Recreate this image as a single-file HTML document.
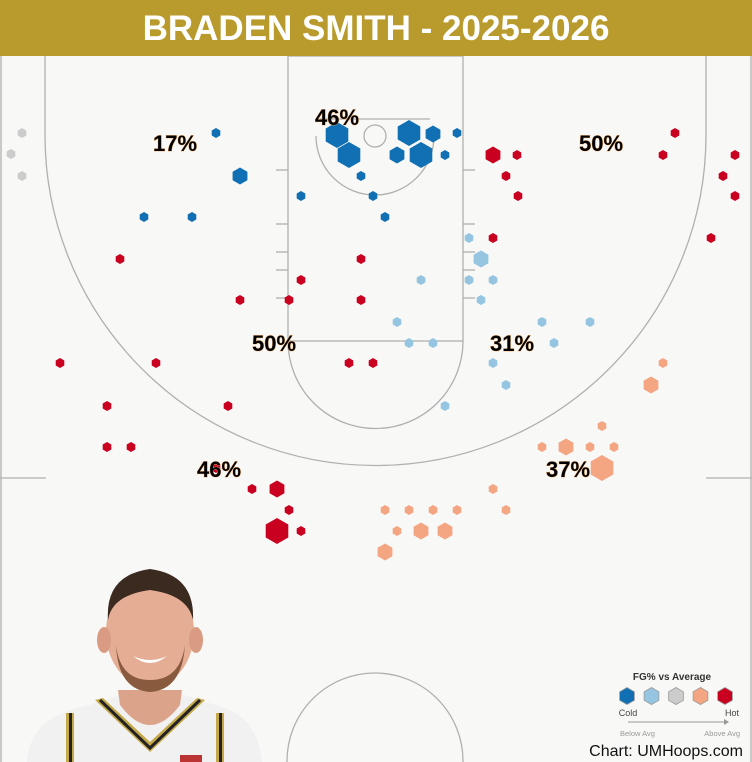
<!DOCTYPE html>
<html><head><meta charset="utf-8"><style>
html,body{margin:0;padding:0;background:#f8f8f6;width:752px;height:762px;overflow:hidden;}
body{position:relative;font-family:"Liberation Sans",sans-serif;}
#hdr{position:absolute;left:0;top:0;width:752px;height:56px;background:#b89b2c;color:#fff;font-weight:bold;font-size:35px;text-align:center;line-height:57px;}
svg{position:absolute;left:0;top:0;display:block;}
.lbl{font-weight:bold;font-size:22px;fill:#000;stroke:#f6b06a;stroke-width:0.8px;paint-order:stroke;}
</style></head><body>
<svg id="s" width="752" height="762" viewBox="0 0 752 762">
<rect x="0" y="56" width="752" height="706" fill="#f8f8f6"/>
<g fill="none" stroke="#b0b0b0" stroke-width="1.3">
<line x1="1" y1="56" x2="1" y2="762"/><line x1="751" y1="56" x2="751" y2="762"/>
<line x1="0" y1="478" x2="46" y2="478"/><line x1="706" y1="478" x2="752" y2="478"/>
<path d="M45,56 L45,135 A330.5,330.5 0 0 0 706,135 L706,56"/>
<rect x="288" y="56" width="175" height="285"/>
<path d="M288,341 A87.5,87.5 0 0 0 463,341"/>
<path d="M316,136 A59,59 0 0 0 434,136"/>
<circle cx="375" cy="136" r="11"/>
<line x1="320" y1="119" x2="430" y2="119"/>
<line x1="276" y1="170" x2="288" y2="170"/><line x1="276" y1="224" x2="288" y2="224"/><line x1="276" y1="252" x2="288" y2="252"/><line x1="276" y1="270" x2="288" y2="270"/><line x1="276" y1="298" x2="288" y2="298"/>
<line x1="463" y1="170" x2="475" y2="170"/><line x1="463" y1="224" x2="475" y2="224"/><line x1="463" y1="252" x2="475" y2="252"/><line x1="463" y1="270" x2="475" y2="270"/><line x1="463" y1="298" x2="475" y2="298"/>
<circle cx="375" cy="761" r="88"/>
</g>
<g id="hex"></g>
<g>
<text class="lbl" x="175" y="151" text-anchor="middle">17%</text>
<text class="lbl" x="337" y="125" text-anchor="middle">46%</text>
<text class="lbl" x="601" y="151" text-anchor="middle">50%</text>
<text class="lbl" x="274" y="351" text-anchor="middle">50%</text>
<text class="lbl" x="512" y="351" text-anchor="middle">31%</text>
<text class="lbl" x="219" y="477" text-anchor="middle">46%</text>
<text class="lbl" x="568" y="477" text-anchor="middle">37%</text>
</g>
<g>
<path d="M27,762 C30,725 55,712 90,705 L120,695 L185,695 L215,705 C245,712 258,730 262,762 Z" fill="#f1f1f1"/>
<path d="M95,700 L150,752 L205,700 L197,698 L150,742 L103,698 Z" fill="#c4a84a"/>
<path d="M100,700 L150,748 L200,700" fill="none" stroke="#222" stroke-width="3"/>
<rect x="66" y="713" width="8" height="49" fill="#c4a84a"/><rect x="69" y="713" width="3" height="49" fill="#222"/>
<rect x="216" y="713" width="8" height="49" fill="#c4a84a"/><rect x="219" y="713" width="3" height="49" fill="#222"/>
<path d="M118,690 L120,705 Q150,745 180,705 L182,690 Z" fill="#dba48a"/>
<ellipse cx="150" cy="632" rx="44" ry="55" fill="#e4ad94"/>
<ellipse cx="104" cy="640" rx="7" ry="13" fill="#d99c82"/><ellipse cx="196" cy="640" rx="7" ry="13" fill="#d99c82"/>
<path d="M108,620 Q105,575 150,569 Q195,575 193,620 Q188,595 150,590 Q112,595 108,620 Z" fill="#3b2a20"/>
<path d="M116,645 Q118,690 150,692 Q182,690 185,645 Q180,680 150,680 Q120,680 116,645 Z" fill="#8a5a3e"/>
<path d="M133,656 Q150,664 167,656 Q150,670 133,656 Z" fill="#fff"/>
<rect x="180" y="755" width="22" height="7" fill="#b33"/>
</g>
<text x="672" y="680" text-anchor="middle" font-size="10" font-weight="bold" fill="#333">FG% vs Average</text>
<g id="leg"></g>
<text x="628" y="716" text-anchor="middle" font-size="9" fill="#444">Cold</text>
<text x="732" y="716" text-anchor="middle" font-size="9" fill="#444">Hot</text>
<line x1="628" y1="722" x2="724" y2="722" stroke="#999" stroke-width="1"/>
<path d="M724,719 L729,722 L724,725 Z" fill="#999"/>
<text x="620" y="736" font-size="7.5" fill="#999">Below Avg</text>
<text x="740" y="736" text-anchor="end" font-size="7.5" fill="#999">Above Avg</text>
<text x="743" y="756" text-anchor="end" font-size="16" fill="#111">Chart: UMHoops.com</text>
</svg>
<div id="hdr">BRADEN SMITH - 2025-2026</div>
<script>
var C={b:"#1170b3",l:"#95c5e0",g:"#cccccc",o:"#f4a582",r:"#ca0020"};
var R={s:5,m:8.5,L:13};
function hex(x,y,r,c,st){var p=[];for(var i=0;i<6;i++){var a=Math.PI/3*i-Math.PI/2;p.push((x+r*Math.cos(a)).toFixed(1)+","+(y+r*Math.sin(a)).toFixed(1));}
return '<polygon points="'+p.join(" ")+'" fill="'+c+'" stroke="'+(st||"none")+'" stroke-width="0.8"/>';}
var d=[["g",22,133,"s"],["g",11,154,"s"],["g",22,176,"s"],
["b",216,133,"s"],["b",240,176,"m"],["b",144,217,"s"],["b",192,217,"s"],["b",337,135,"L"],["b",349,155,"L"],["b",409,133,"L"],["b",433,134,"m"],["b",457,133,"s"],["b",397,155,"m"],["b",421,155,"L"],["b",445,155,"s"],["b",361,176,"s"],["b",301,196,"s"],["b",373,196,"s"],["b",385,217,"s"],
["r",493,155,"m"],["r",517,155,"s"],["r",506,176,"s"],["r",518,196,"s"],["r",675,133,"s"],["r",663,155,"s"],["r",735,155,"s"],["r",723,176,"s"],["r",735,196,"s"],["r",493,238,"s"],["r",711,238,"s"],["r",120,259,"s"],["r",361,259,"s"],["r",301,280,"s"],["r",240,300,"s"],["r",289,300,"s"],["r",361,300,"s"],["r",60,363,"s"],["r",156,363,"s"],["r",349,363,"s"],["r",373,363,"s"],["r",107,406,"s"],["r",228,406,"s"],["r",107,447,"s"],["r",131,447,"s"],["r",216,468,"s"],["r",252,489,"s"],["r",277,489,"m"],["r",289,510,"s"],["r",277,531,"L"],["r",301,531,"s"],
["l",469,238,"s"],["l",481,259,"m"],["l",469,280,"s"],["l",493,280,"s"],["l",421,280,"s"],["l",481,300,"s"],["l",397,322,"s"],["l",542,322,"s"],["l",590,322,"s"],["l",409,343,"s"],["l",433,343,"s"],["l",554,343,"s"],["l",493,363,"s"],["l",506,385,"s"],["l",445,406,"s"],
["o",663,363,"s"],["o",651,385,"m"],["o",602,426,"s"],["o",542,447,"s"],["o",566,447,"m"],["o",590,447,"s"],["o",614,447,"s"],["o",602,468,"L"],["o",493,489,"s"],["o",385,510,"s"],["o",409,510,"s"],["o",433,510,"s"],["o",457,510,"s"],["o",506,510,"s"],["o",397,531,"s"],["o",421,531,"m"],["o",445,531,"m"],["o",385,552,"m"]];
var h="";d.forEach(function(e){h+=hex(e[1],e[2],R[e[3]],C[e[0]]);});
document.getElementById("hex").innerHTML=h;
var lg="";["b","l","g","o","r"].forEach(function(k,i){lg+=hex(627+i*24.5,696,8.5,C[k],"#999");});
document.getElementById("leg").innerHTML=lg;
</script>
</body></html>
